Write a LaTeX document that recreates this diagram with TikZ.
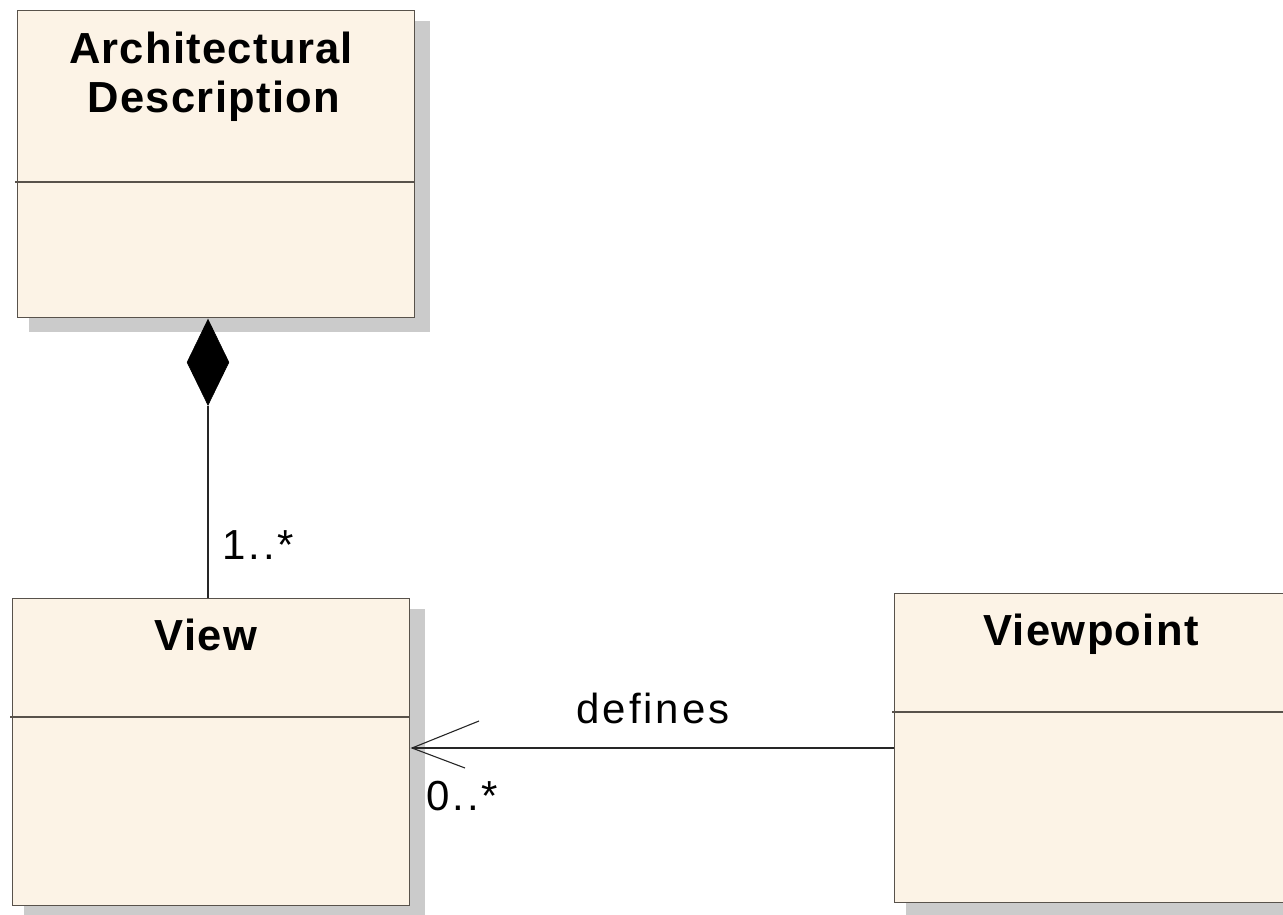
\documentclass[tikz,border=0pt]{standalone}
\usepackage{fontspec}
\setmainfont{Liberation Sans}[LetterSpace=7, BoldFeatures={LetterSpace=3}]
\usetikzlibrary{shapes.geometric,backgrounds}
\definecolor{classfill}{HTML}{FCF3E6}
\definecolor{classline}{HTML}{58524B}
\definecolor{shadowgray}{HTML}{CBCBCB}
\tikzset{
  classbox/.style={draw=classline, line width=1.3pt, fill=classfill, rectangle,
    inner sep=0pt, anchor=north west},
  classname/.style={font=\fontsize{43.5}{50}\selectfont\bfseries, anchor=base,
    inner sep=0pt},
  rolelabel/.style={font=\fontsize{42}{48}\selectfont, inner sep=0pt},
  divider/.style={draw=classline, line width=1.3pt},
  link/.style={draw=black!85, line width=1.1pt},
  boxshadow/.style={fill=shadowgray},
}
\begin{document}
\begin{tikzpicture}[x=1pt,y=-1pt]
  \useasboundingbox (0,0) rectangle (1283,915);
  \clip (0,0) rectangle (1283,915);

  % class boxes
  \node[classbox, minimum width=397pt, minimum height=307pt] (ad) at (17,10) {};
  \node[classbox, minimum width=397pt, minimum height=307pt] (view) at (12,598) {};
  \node[classbox, minimum width=396pt, minimum height=309pt] (vp) at (894,593) {};

  % drop shadows behind the boxes
  \begin{scope}[on background layer]
    \foreach \b in {ad,view,vp}
      \fill[boxshadow] ([shift={(12,11)}]\b.north west) rectangle ([shift={(15,14)}]\b.south east);
  \end{scope}

  % compartment dividers
  \draw[divider] (ad.west |- 0,182) ++(-2,0) -- (ad.east |- 0,182);
  \draw[divider] (view.west |- 0,717) ++(-2,0) -- (view.east |- 0,717);
  \draw[divider] (vp.west |- 0,712) ++(-2,0) -- (vp.east |- 0,712);

  % class names
  \node[classname] (adname1) at (211,64) {Architectural};
  \node[classname] (adname2) at (214,113) {Description};
  \node[classname] (viewname) at (206,650) {View};
  \node[classname] (vpname) at (1091,645) {Viewpoint};

  % composition: Architectural Description <>-- View
  \node[diamond, fill=black, draw=black, line width=0.6pt, inner sep=0pt,
        minimum width=42pt, minimum height=86pt, anchor=north] (dia) at (208,319) {};
  \draw[link] (dia.south) -- (dia.south |- view.north);
  \node[rolelabel, anchor=base west] (mult1) at (222,559) {1..*};

  % association: Viewpoint defines View
  \coordinate (tip) at (412,748);
  \coordinate (headup) at (479,721);
  \coordinate (headdown) at (465,768);
  \draw[link] (vp.west |- tip) -- (tip);
  \draw[link] (headup) -- (tip) -- (headdown);
  \node[rolelabel, anchor=base] (deflabel) at (653,723) {defines};
  \node[rolelabel, anchor=base west] (mult2) at (426,810) {0..*};
\end{tikzpicture}
\end{document}
